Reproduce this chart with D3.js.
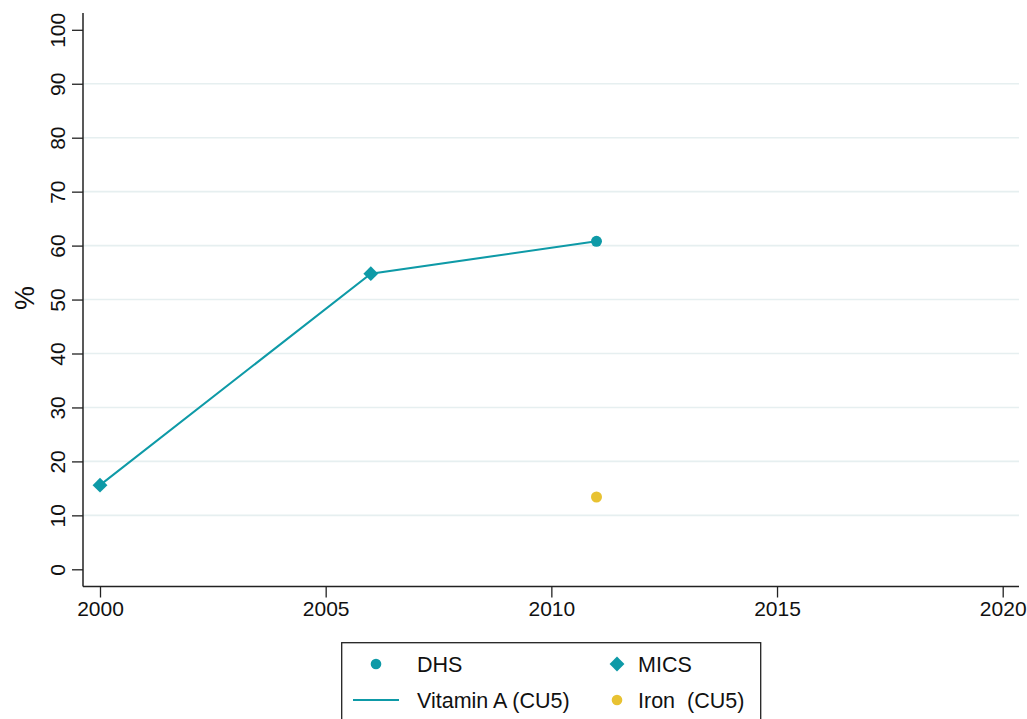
<!DOCTYPE html>
<html>
<head>
<meta charset="utf-8">
<script src="https://cdn.jsdelivr.net/npm/d3@7"></script>
<style>
  body { margin: 0; background: #fff; }
  svg { display: block; font-family: "Liberation Sans", Arial, Helvetica, sans-serif; }
</style>
</head>
<body>
<svg id="chart" width="1027" height="719"></svg>
<script>
// Coverage series (percent)
const vitaminYears = [2000, 2006, 2011];
const vitaminValues = [15.6, 54.8, 60.8];
const vitaminSources = ["MICS", "MICS", "DHS"];
const ironYears = [2011];
const ironValues = [13.4];
const ironSources = ["DHS"];

const xTicks = [2000, 2005, 2010, 2015, 2020];
const yTicks = [0, 10, 20, 30, 40, 50, 60, 70, 80, 90, 100];
const gridTicks = [10, 20, 30, 40, 50, 60, 70, 80, 90];

const teal = "#0e9aa7";
const gold = "#e8c232";

const svg = d3.select("#chart");

const x = d3.scaleLinear().domain([2000, 2020]).range([100, 1002.7]);
const y = d3.scaleLinear().domain([0, 100]).range([569.3, 29.8]);

const plotLeft = 83, plotRight = 1019, plotTop = 13, plotBottom = 586.5;

// gridlines
svg.append("g").selectAll("line").data(gridTicks).join("line")
  .attr("x1", plotLeft).attr("x2", plotRight)
  .attr("y1", d => y(d)).attr("y2", d => y(d))
  .attr("stroke", "#e6eff0").attr("stroke-width", 1.6);

// y axis
const yAxis = svg.append("g").attr("transform", `translate(${plotLeft},0)`)
  .call(d3.axisLeft(y).tickValues(yTicks).tickSize(11).tickPadding(0).tickFormat(d3.format("d")));
yAxis.select(".domain").attr("d", `M0,${plotTop}V${plotBottom}`).attr("stroke", "#222").attr("stroke-width", 1.5);
yAxis.selectAll(".tick line").attr("stroke", "#222").attr("stroke-width", 1.3);
yAxis.selectAll(".tick text")
  .attr("x", null).attr("dy", null)
  .attr("transform", "translate(-18,0) rotate(-90)")
  .attr("text-anchor", "middle")
  .attr("font-size", 21).attr("fill", "#111");

// x axis
const xAxis = svg.append("g").attr("transform", `translate(0,${plotBottom})`)
  .call(d3.axisBottom(x).tickValues(xTicks).tickSize(11).tickPadding(4).tickFormat(d3.format("d")));
xAxis.select(".domain").attr("d", `M${plotLeft},0H${plotRight}`).attr("stroke", "#222").attr("stroke-width", 1.5);
xAxis.selectAll(".tick line").attr("stroke", "#222").attr("stroke-width", 1.3);
xAxis.selectAll(".tick text").attr("font-size", 21).attr("fill", "#111");

// y axis title
svg.append("text")
  .attr("transform", "translate(34,298) rotate(-90)")
  .attr("text-anchor", "middle")
  .attr("font-size", 27).attr("fill", "#111")
  .text("%");

// vitamin A line
const vitData = vitaminYears.map((yr, i) => ({ year: yr, value: vitaminValues[i], source: vitaminSources[i] }));
svg.append("path").datum(vitData)
  .attr("fill", "none").attr("stroke", teal).attr("stroke-width", 2)
  .attr("d", d3.line().x(d => x(d.year)).y(d => y(d.value)));

const diamond = d3.symbol().type(d3.symbolSquare).size(110);
function drawMarker(sel, d, color) {
  if (d.source === "MICS") {
    sel.append("path").attr("d", diamond())
      .attr("transform", `translate(${x(d.year)},${y(d.value)}) rotate(45)`)
      .attr("fill", color);
  } else {
    sel.append("circle").attr("cx", x(d.year)).attr("cy", y(d.value)).attr("r", 5.5).attr("fill", color);
  }
}
const marks = svg.append("g");
vitData.forEach(d => drawMarker(marks, d, teal));
ironYears.forEach((yr, i) => drawMarker(marks, { year: yr, value: ironValues[i], source: ironSources[i] }, gold));

// legend
const lg = svg.append("g");
lg.append("rect").attr("x", 341.7).attr("y", 642.7).attr("width", 419).attr("height", 90)
  .attr("fill", "#fff").attr("stroke", "#222").attr("stroke-width", 1.3);
const row1 = 664, row2 = 700;
lg.append("circle").attr("cx", 376).attr("cy", row1).attr("r", 5.3).attr("fill", teal);
lg.append("path").attr("d", diamond()).attr("transform", `translate(617,${row1}) rotate(45)`).attr("fill", teal);
lg.append("line").attr("x1", 353).attr("x2", 399).attr("y1", row2).attr("y2", row2).attr("stroke", teal).attr("stroke-width", 2);
lg.append("circle").attr("cx", 617).attr("cy", row2).attr("r", 5.3).attr("fill", gold);
const legendText = [
  { t: "DHS", x: 417, y: row1 },
  { t: "MICS", x: 638, y: row1 },
  { t: "Vitamin A (CU5)", x: 417, y: row2 },
  { t: "Iron  (CU5)", x: 638, y: row2 }
];
lg.selectAll("text.lbl").data(legendText).join("text").attr("class", "lbl")
  .attr("x", d => d.x).attr("y", d => d.y).attr("dy", "0.36em")
  .attr("font-size", 21.5).attr("fill", "#111")
  .attr("xml:space", "preserve").style("white-space", "pre")
  .text(d => d.t);
</script>
</body>
</html>
